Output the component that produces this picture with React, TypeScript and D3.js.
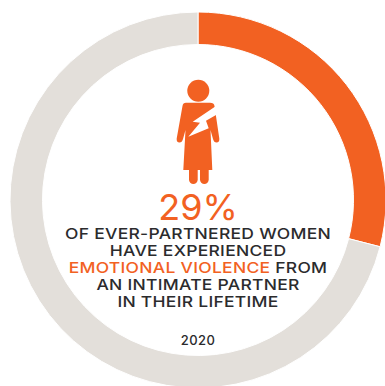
import React from "react";
import * as d3 from "d3";

const shareValues = [29, 71];
const shareColors = ["#f26122", "#e3dfda"];
const headline = "29%";
const textLines = [
  [{ t: "OF EVER-PARTNERED WOMEN", c: "#2b2b2d" }],
  [{ t: "HAVE EXPERIENCED", c: "#2b2b2d" }],
  [{ t: "EMOTIONAL VIOLENCE", c: "#f26122" }, { t: " FROM", c: "#2b2b2d" }],
  [{ t: "AN INTIMATE PARTNER", c: "#2b2b2d" }],
  [{ t: "IN THEIR LIFETIME", c: "#2b2b2d" }],
];
const yearLabel = "2020";
const font = "Inter, Lato, sans-serif";

export default function App() {
  const cx = 198, cy = 200;
  const pie = d3.pie<number>().sort(null)(shareValues);
  const arc = d3.arc<d3.PieArcDatum<number>>().innerRadius(155.5).outerRadius(188);
  return (
    <svg width={385} height={386} viewBox="0 0 385 386" style={{ position: "fixed", left: 0, top: 0, background: "#fff" }}>
      <g transform={`translate(${cx},${cy})`}>
        {pie.map((d, i) => <path key={i} d={arc(d) ?? ""} fill={shareColors[i]} stroke="#fff" strokeWidth={1} />)}
      </g>
      {/* figure of a woman with a lightning bolt across the torso */}
      <g fill="#f26122">
        <circle cx={198.3} cy={90.7} r={11} />
        <path d="M186 102.700 Q183 102.700 182.500 106 L176.700 138.500 Q176.300 142.500 179.500 142.500 Q182 142.500 183 139 L185.500 130 L183.300 170 L212.300 170 L210.500 130 L213 139 Q214 142.500 216.500 142.500 Q219.700 142.500 219.300 138.500 L214.500 106 Q214 102.700 210 102.700 Z" />
        <path d="M189 169 H197.700 V179.600 A4.350 4.350 0 0 1 189 179.600 Z" />
        <path d="M200 169 H208.700 V179.600 A4.350 4.350 0 0 1 200 179.600 Z" />
      </g>
      <path d="M216 106 L192.700 121.700 L200 122.700 L188.300 136.700 L208.700 128.300 L206 120.700 L216 115 Z" fill="#fff" />
      {/* the caption face is stretched horizontally to get its wide proportions */}
      <g transform="translate(198,0) scale(1.165,1)">
        {textLines.map((line, i) => (
          <text key={i} x={0} y={239.500 + i * 16.8} textAnchor="middle" fontFamily={font} fontSize={15} fontWeight={500} letterSpacing={0.25}>
            {line.map((s, j) => <tspan key={j} fill={s.c}>{s.t}</tspan>)}
          </text>
        ))}
      </g>
      <text x={198} y={219.500} textAnchor="middle" fontFamily={font} fontSize={36} fontWeight={400} fill="#f26122">{headline}</text>
      <text x={198} y={345} textAnchor="middle" fontFamily={font} fontSize={13} fontWeight={500} letterSpacing={0.4} fill="#2b2b2d">{yearLabel}</text>
    </svg>
  );
}
